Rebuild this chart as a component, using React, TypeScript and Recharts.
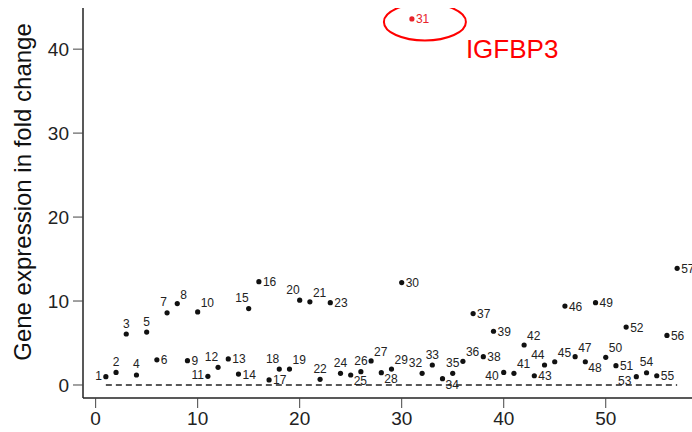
import { ScatterChart, Scatter, XAxis, YAxis, ReferenceLine } from "recharts";

// fold change per gene (gene number = position)
const foldChange = [
  0.99, 1.5, 6.07, 1.19, 6.3, 3.0, 8.6, 9.7, 2.9, 8.7,
  1.03, 2.1, 3.1, 1.3, 9.1, 12.3, 0.6, 1.9, 1.9, 10.1,
  9.9, 0.67, 9.8, 1.39, 1.19, 1.59, 2.86, 1.47, 1.9, 12.2,
  43.6, 1.39, 2.38, 0.75, 1.39, 2.82, 8.5, 3.37, 6.4, 1.5,
  1.39, 4.76, 1.1, 2.38, 2.77, 9.4, 3.37, 2.77, 9.8, 3.3,
  2.3, 6.9, 0.99, 1.46, 1.1, 5.9, 13.9,
];

// where each number sits next to its dot
const labelSide = [
  "left", "top", "top", "top", "top", "right", "tl", "tr", "right", "tr",
  "left", "tl", "right", "right", "tl", "right", "right", "tl", "tr", "tl",
  "tr", "top", "right", "top", "br", "top", "tr", "br", "tr", "right",
  "right", "tl", "top", "br", "top", "tr", "right", "right", "right", "bl",
  "tr", "tr", "right", "tl", "tr", "right", "tr", "br", "right", "tr",
  "right", "right", "bl", "top", "right", "right", "right",
];

const xTicks = [0, 10, 20, 30, 40, 50];
const yTicks = [0, 10, 20, 30, 40];
const highlightGene = 31;
const highlightName = "IGFBP3";
const baseline = [
  { x: 1, y: 0 },
  { x: 57, y: 0 },
];

const data = foldChange.map((v, i) => ({ gene: i + 1, value: v, side: labelSide[i] }));

const FONT = "'Liberation Sans', Arial, Helvetica, sans-serif";

function GeneDot(props: any) {
  const { cx, cy, payload } = props;
  if (cx == null || cy == null) return null;
  const red = payload.gene === highlightGene;
  const color = red ? "#e8232a" : "#111";
  let x = cx + 4;
  let y = cy + 4.5;
  let anchor: "start" | "end" | "middle" = "start";
  switch (payload.side) {
    case "left": x = cx - 4; y = cy + 3; anchor = "end"; break;
    case "top": x = cx; y = cy - 6.5; anchor = "middle"; break;
    case "tl": x = cx; y = cy - 6.5; anchor = "end"; break;
    case "tr": x = cx + 3; y = cy - 5; anchor = "start"; break;
    case "br": x = cx + 3; y = cy + 10; anchor = "start"; break;
    case "bl": x = cx - 5; y = cy + 8; anchor = "end"; break;
  }
  return (
    <g>
      <circle cx={cx} cy={cy} r={2.6} fill={color} />
      <text x={x} y={y} textAnchor={anchor} fontSize={12} fill={red ? "#e8232a" : "#222"} fontFamily={FONT}>
        {payload.gene}
      </text>
      {red && (
        <>
          <ellipse cx={cx + 13} cy={cy + 3} rx={41} ry={18.5} fill="none" stroke="#ff0000" strokeWidth={2} />
          <text x={cx + 54} y={cy + 39} fontSize={26} fill="#ff0000" fontFamily={FONT}>
            {highlightName}
          </text>
        </>
      )}
    </g>
  );
}

export default function App() {
  const tickStyle = { fontSize: 19, fill: "#222", fontFamily: FONT };
  return (
    <div style={{ position: "absolute", left: 0, top: 0, width: 692, height: 432, overflow: "hidden", background: "#fff" }}>
      <ScatterChart width={720} height={432} margin={{ top: 8, right: 20, bottom: 0, left: 0 }}>
        <XAxis
          type="number"
          dataKey="gene"
          domain={[-1.24, 59.24]}
          ticks={xTicks}
          allowDataOverflow
          height={34}
          tickSize={10}
          tickMargin={4}
          tick={tickStyle}
          axisLine={{ stroke: "#222", strokeWidth: 1.5 }}
          tickLine={{ stroke: "#444" }}
        />
        <XAxis
          xAxisId="top"
          orientation="top"
          type="number"
          domain={[-1.24, 59.24]}
          height={0}
          tick={false}
          tickLine={false}
          axisLine={{ stroke: "#222", strokeWidth: 1.5 }}
        />
        <YAxis
          type="number"
          dataKey="value"
          domain={[-1.55, 44.9]}
          ticks={yTicks}
          allowDataOverflow
          width={83}
          tickSize={10}
          tickMargin={4}
          tick={tickStyle}
          axisLine={{ stroke: "#222", strokeWidth: 1.5 }}
          tickLine={{ stroke: "#444" }}
          label={({ viewBox }: any) => {
            const cx = viewBox.x + 22;
            const cy = viewBox.y + viewBox.height / 2 - 11;
            return (
              <text
                x={cx}
                y={cy}
                textAnchor="middle"
                dominantBaseline="central"
                transform={`rotate(-90, ${cx}, ${cy})`}
                fontSize={24}
                fill="#111"
                fontFamily={FONT}
              >
                Gene expression in fold change
              </text>
            );
          }}
        />
        <ReferenceLine segment={baseline} stroke="#222" strokeWidth={1.6} strokeDasharray="6 4" />
        <Scatter data={data} shape={GeneDot} isAnimationActive={false} />
      </ScatterChart>
    </div>
  );
}
